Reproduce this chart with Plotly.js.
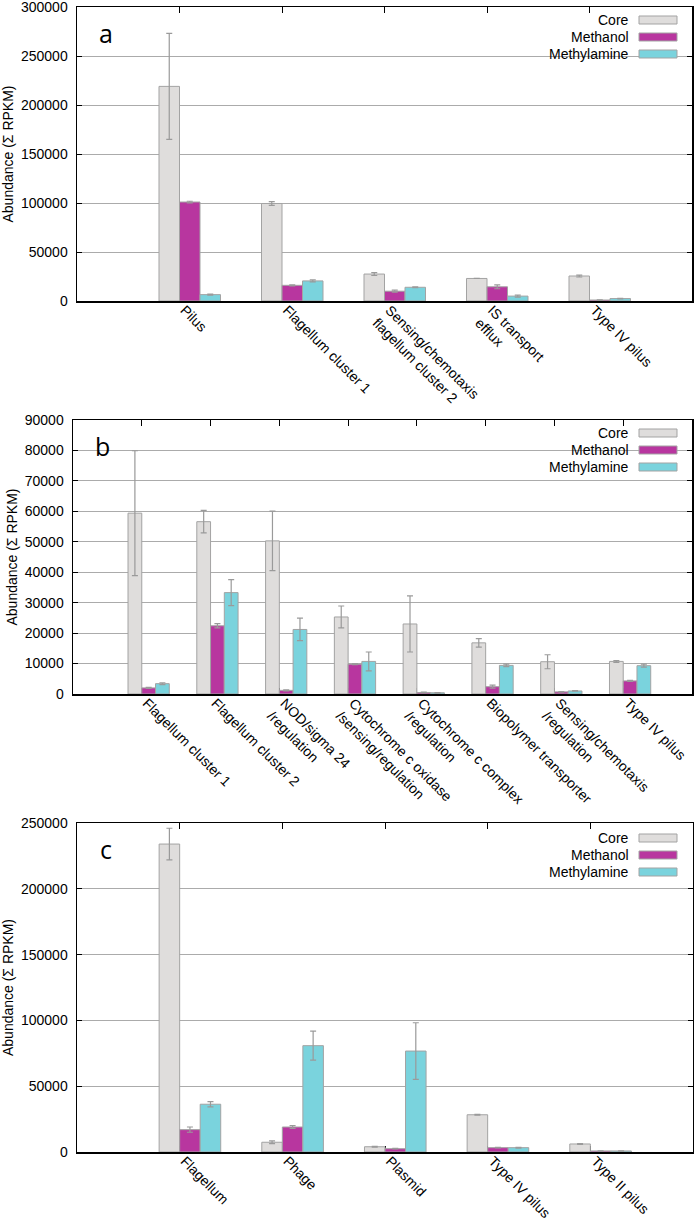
<!DOCTYPE html>
<html>
<head>
<meta charset="utf-8">
<script src="https://cdn.plot.ly/plotly-3.0.1.min.js"></script>
<style>
  html, body { margin: 0; padding: 0; background: #fff; }
  #chart { width: 694px; height: 1221px; }
</style>
</head>
<body>
<div id="chart"></div>
<script>
// ---- data ----
var seriesNames = ['Core', 'Methanol', 'Methylamine'];

// panel a
var catsA = ['Pilus', 'Flagellum cluster 1', 'Sensing/chemotaxis<br>flagellum cluster 2', 'IS transport<br>efflux', 'Type IV pilus'];
var coreA = [219000, 99500, 27500, 23000, 25500];
var coreErrA = [54000, 2000, 1500, 0, 1000];
var methanolA = [101000, 16000, 10000, 14500, 1000];
var methanolErrA = [800, 500, 1000, 2000, 300];
var methylA = [6500, 20500, 14000, 5000, 2500];
var methylErrA = [600, 1000, 500, 1000, 300];

// panel b
var catsB = ['Flagellum cluster 1', 'Flagellum cluster 2', 'NOD/sigma 24<br>/regulation', 'Cytochrome c oxidase<br>/sensing/regulation',
  'Cytochrome c complex<br>/regulation', 'Biopolymer transporter', 'Sensing/chemotaxis<br>/regulation', 'Type IV pilus'];
var coreB = [59400, 56600, 50300, 25300, 23000, 16800, 10600, 10700];
var coreErrB = [20500, 3700, 9800, 3600, 9200, 1400, 2300, 300];
var methanolB = [2000, 22400, 1200, 9800, 500, 2400, 700, 4300];
var methanolErrB = [200, 700, 200, 200, 100, 500, 100, 200];
var methylB = [3400, 33300, 21200, 10700, 400, 9400, 1000, 9300];
var methylErrB = [300, 4300, 3700, 3100, 100, 400, 100, 500];

// panel c
var catsC = ['Flagellum', 'Phage', 'Plasmid', 'Type IV pilus', 'Type II pilus'];
var coreC = [234000, 7400, 4000, 28300, 6100];
var coreErrC = [12000, 1000, 300, 300, 300];
var methanolC = [17000, 19000, 2500, 3300, 800];
var methanolErrC = [2000, 1000, 200, 200, 100];
var methylC = [36300, 80800, 76700, 3300, 800];
var methylErrC = [2000, 11000, 21500, 300, 100];

var colors = ['#dfdddc', '#b8369f', '#7ad3dd'];
var W = 694, H = 1221;
function fx(p) { return p / W; }
function fy(p) { return 1 - p / H; }

var data = [];
var shapes = [];
var annotations = [];
var layout = {
  width: W, height: H,
  margin: {l: 0, r: 0, t: 0, b: 0},
  paper_bgcolor: '#fff', plot_bgcolor: '#fff',
  showlegend: false,
  barmode: 'overlay',
  font: {family: 'Liberation Sans, Arial, sans-serif', size: 14, color: '#000'}
};

// one panel: bars, axes, letter and hand made legend (swatch right of text)
function addPanel(n, cats, vals, errs, box, yMax, yStep, letter, legendY) {
  var xa = n == 1 ? 'x' : 'x' + n, ya = n == 1 ? 'y' : 'y' + n;
  var xs = cats.map(function (c, i) { return i; });
  for (var s = 0; s < 3; s++) {
    data.push({
      type: 'bar', x: xs, y: vals[s], name: seriesNames[s],
      xaxis: xa, yaxis: ya,
      width: 0.2, offset: -0.2 + 0.2 * s,
      marker: {color: colors[s], line: {color: '#a3a3a3', width: 1}},
      error_y: {type: 'data', array: errs[s], visible: true, color: '#9a9a9a', thickness: 1.2, width: 3}
    });
  }
  var xk = n == 1 ? 'xaxis' : 'xaxis' + n, yk = n == 1 ? 'yaxis' : 'yaxis' + n;
  layout[xk] = {
    domain: [fx(box[0]), fx(box[1])], anchor: ya,
    range: [-1, cats.length], tickvals: xs, ticktext: cats,
    tickangle: 45, ticks: 'inside', ticklen: 6, tickcolor: '#000', mirror: 'ticks',
    ticklabelstandoff: -6, ticklabelshift: 5, ticklabeloverflow: 'allow',
    showline: true, linecolor: '#000', linewidth: 1.5, showgrid: false, zeroline: false,
    layer: 'below traces', tickfont: {size: 14}, fixedrange: true
  };
  layout[yk] = {
    domain: [fy(box[3]), fy(box[2])], anchor: xa,
    range: [0, yMax], dtick: yStep, tickformat: 'd',
    ticks: 'inside', ticklen: 5, tickcolor: '#000', mirror: 'ticks',
    ticklabelstandoff: 5, ticklabeloverflow: 'allow',
    showline: true, linecolor: '#000', linewidth: 1.5,
    showgrid: true, gridcolor: '#ababab', gridwidth: 1, zeroline: false,
    layer: 'below traces', tickfont: {size: 14},
    title: {text: 'Abundance (\u03a3 RPKM)', font: {size: 14}, standoff: 4}
  };
  annotations.push({
    xref: 'paper', yref: 'paper', x: fx(box[0] + 29), y: fy(box[2] + 26),
    xanchor: 'center', yanchor: 'middle', showarrow: false, text: letter,
    font: {family: 'Open Sans, sans-serif', size: 25, color: '#000'}
  });
  // white area behind the legend
  shapes.push({
    type: 'rect', layer: 'between', xref: 'paper', yref: 'paper',
    x0: fx(540), x1: fx(680), y0: fy(legendY - 10), y1: fy(legendY + 44),
    fillcolor: '#fff', line: {width: 0}
  });
  for (var k = 0; k < 3; k++) {
    var ry = legendY + k * 17;
    annotations.push({
      xref: 'paper', yref: 'paper', x: fx(631), y: fy(ry),
      xanchor: 'right', yanchor: 'middle', showarrow: false, text: seriesNames[k],
      font: {size: 14, color: '#000'}
    });
    shapes.push({
      type: 'rect', xref: 'paper', yref: 'paper',
      x0: fx(639), x1: fx(677), y0: fy(ry + 4), y1: fy(ry - 4),
      fillcolor: colors[k], line: {color: '#a3a3a3', width: 1}
    });
  }
}

addPanel(1, catsA, [coreA, methanolA, methylA], [coreErrA, methanolErrA, methylErrA],
  [77, 692, 7, 301], 300000, 50000, 'a', 20);
addPanel(2, catsB, [coreB, methanolB, methylB], [coreErrB, methanolErrB, methylErrB],
  [73, 692, 420, 694], 90000, 10000, 'b', 433);
addPanel(3, catsC, [coreC, methanolC, methylC], [coreErrC, methanolErrC, methylErrC],
  [77, 693, 823, 1152], 250000, 50000, 'c', 838);

layout.shapes = shapes;
layout.annotations = annotations;

Plotly.newPlot('chart', data, layout, {displayModeBar: false, staticPlot: true});
</script>
</body>
</html>
